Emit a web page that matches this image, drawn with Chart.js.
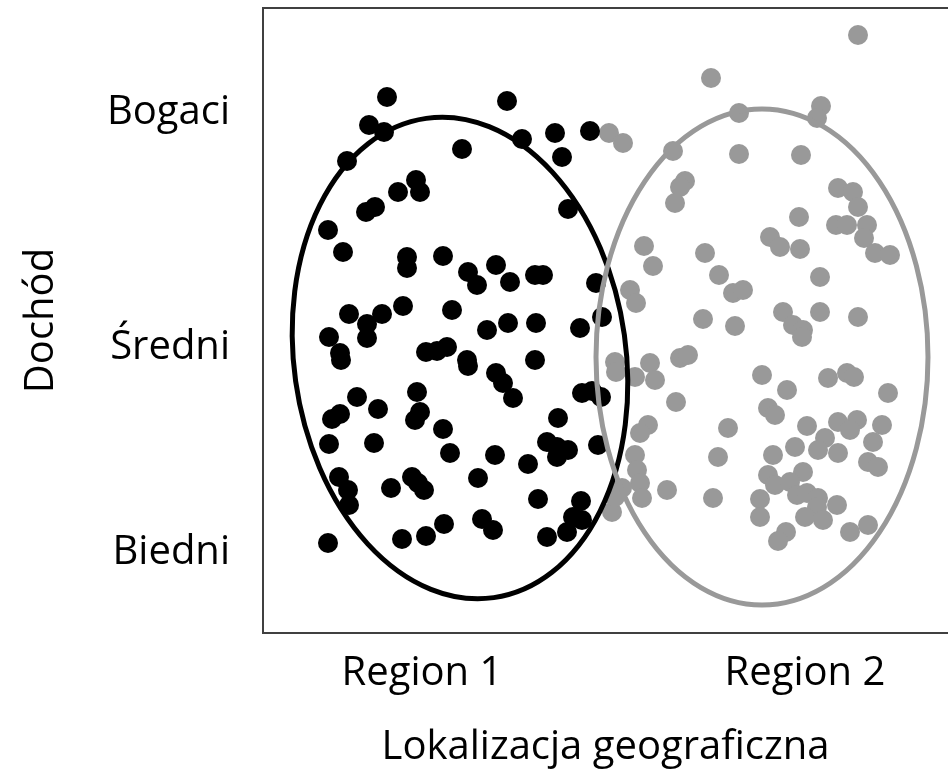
<!DOCTYPE html>
<html>
<head>
<meta charset="utf-8">
<script src="https://cdn.jsdelivr.net/npm/chart.js@4.4.1/dist/chart.umd.min.js"></script>
<style>
  html, body { margin: 0; padding: 0; background: #fff; }
  #chart { display: block; }
</style>
</head>
<body>
<canvas id="chart" width="948" height="773"></canvas>
<script>
// axis ticks (data units)
const regionTicks = [159, 542];
const regionLabels = ['Region 1', 'Region 2'];
const incomeTicks = [80, 285, 520];
const incomeLabels = ['Biedni', 'Średni', 'Bogaci'];

// households, [location, income]
const region1Points = [
  [124, 536], [244, 532], [106, 508], [121, 501], [84, 472], [199, 484], [259, 494], [292, 500],
  [327, 502], [299, 476], [305, 424], [153, 453], [157, 441], [135, 441], [103, 421], [112, 426],
  [65, 403], [80, 381], [144, 376], [144, 365], [180, 377], [205, 361], [214, 348], [233, 368],
  [247, 351], [272, 358], [280, 358], [333, 350], [339, 316], [317, 305], [86, 319], [104, 309],
  [119, 319], [140, 327], [189, 323], [66, 296], [104, 295], [77, 280], [78, 273], [163, 281],
  [174, 282], [184, 286], [204, 273], [205, 267], [224, 303], [233, 260], [240, 250], [245, 310],
  [273, 310], [272, 273], [250, 235], [319, 240], [329, 242], [338, 236], [295, 215], [94, 236],
  [115, 224], [154, 241], [157, 221], [152, 213], [69, 214], [77, 219], [180, 204], [66, 189],
  [111, 190], [187, 180], [232, 178], [76, 156], [85, 143], [86, 128], [128, 145], [149, 156],
  [155, 150], [161, 143], [215, 155], [65, 90], [139, 94], [163, 97], [181, 109], [219, 114],
  [230, 103], [284, 191], [294, 186], [305, 183], [294, 176], [265, 169], [335, 188], [275, 134],
  [318, 132], [310, 116], [319, 113], [304, 101], [284, 96]
];

const region2Points = [
  [595, 598], [448, 555], [476, 520], [558, 527], [554, 515], [346, 500], [360, 490], [410, 482],
  [476, 479], [538, 478], [422, 452], [417, 446], [412, 430], [575, 445], [590, 441], [595, 426],
  [536, 416], [573, 408], [584, 408], [604, 408], [601, 395], [612, 380], [627, 378], [507, 396],
  [517, 386], [537, 384], [381, 387], [390, 367], [442, 380], [456, 358], [557, 356], [470, 340],
  [480, 343], [440, 314], [520, 321], [530, 308], [540, 303], [539, 296], [557, 321], [595, 316],
  [472, 307], [367, 343], [373, 330], [352, 271], [353, 261], [372, 256], [387, 270], [392, 253],
  [417, 275], [425, 278], [413, 231], [499, 258], [524, 243], [565, 255], [584, 260], [591, 256],
  [625, 240], [505, 225], [512, 218], [465, 205], [544, 207], [575, 211], [594, 213], [587, 203],
  [619, 208], [610, 191], [562, 195], [555, 183], [575, 180], [455, 176], [510, 178], [532, 186],
  [605, 171], [615, 166], [540, 161], [505, 158], [512, 148], [527, 151], [534, 138], [544, 140],
  [555, 135], [554, 126], [574, 128], [450, 135], [497, 134], [497, 116], [542, 116], [560, 113],
  [523, 101], [515, 92], [587, 101], [605, 108], [385, 208], [377, 200], [372, 178], [374, 163],
  [377, 150], [379, 135], [404, 143], [359, 145], [349, 121], [352, 136]
];

// group outlines (data units)
const ellipseCenterX = [197, 499];
const ellipseCenterY = [275, 276];
const ellipseRadiusX = [166, 166];
const ellipseRadiusY = [242, 248];
const ellipseTilt = [-0.14, 0];

const BLACK = '#000000';
const GREY = '#999999';
const font = { family: "'Open Sans', 'Noto Sans', sans-serif", size: 40 };

const ellipsePlugin = {
  id: 'ellipses',
  afterDatasetsDraw(chart) {
    const { ctx, scales: { x, y } } = chart;
    const colors = [BLACK, GREY];
    ctx.save();
    ellipseCenterX.forEach((cx, i) => {
      const px = x.getPixelForValue(cx);
      const py = y.getPixelForValue(ellipseCenterY[i]);
      const rx = Math.abs(x.getPixelForValue(cx + ellipseRadiusX[i]) - px);
      const ry = Math.abs(y.getPixelForValue(ellipseCenterY[i] + ellipseRadiusY[i]) - py);
      ctx.beginPath();
      ctx.ellipse(px, py, rx, ry, ellipseTilt[i], 0, Math.PI * 2);
      ctx.strokeStyle = colors[i];
      ctx.lineWidth = 5;
      ctx.stroke();
    });
    ctx.restore();
  }
};

// box round the plot (right side falls off the canvas)
const framePlugin = {
  id: 'frame',
  afterDraw(chart) {
    const { ctx, chartArea: a } = chart;
    ctx.save();
    ctx.strokeStyle = '#404040';
    ctx.lineWidth = 2;
    ctx.beginPath();
    ctx.moveTo(a.right + 2, a.top);
    ctx.lineTo(a.left, a.top);
    ctx.lineTo(a.left, a.bottom);
    ctx.lineTo(a.right + 2, a.bottom);
    ctx.stroke();
    ctx.restore();
  }
};

// fixed axis sizes, no extra room for overhanging labels
const fixSize = (prop, size) => (axis) => {
  axis[prop] = size;
  axis.paddingTop = 0;
  axis.paddingBottom = 0;
  axis.paddingLeft = 0;
  axis.paddingRight = 0;
};

const toXY = (p) => ({ x: p[0], y: p[1] });

new Chart(document.getElementById('chart'), {
  type: 'scatter',
  data: {
    datasets: [
      {
        label: 'Region 1',
        data: region1Points.map(toXY),
        backgroundColor: BLACK,
        borderWidth: 0,
        pointRadius: 10
      },
      {
        label: 'Region 2',
        data: region2Points.map(toXY),
        backgroundColor: GREY,
        borderWidth: 0,
        pointRadius: 10
      }
    ]
  },
  options: {
    responsive: false,
    animation: false,
    layout: { autoPadding: false, padding: { top: 8, right: 0, bottom: 0, left: 0 } },
    plugins: {
      legend: { display: false },
      tooltip: { enabled: false }
    },
    scales: {
      x: {
        type: 'linear',
        min: 0,
        max: 685,
        afterBuildTicks: (axis) => { axis.ticks = regionTicks.map(v => ({ value: v })); },
        afterFit: fixSize('height', 140),
        grid: { display: false, drawTicks: false },
        border: { display: false },
        ticks: {
          callback: (v, i) => regionLabels[i],
          color: BLACK,
          font: font,
          padding: 17,
          autoSkip: false,
          maxRotation: 0
        },
        title: {
          display: true,
          text: 'Lokalizacja geograficzna',
          color: BLACK,
          font: font,
          padding: { top: 0, bottom: 1 }
        }
      },
      y: {
        type: 'linear',
        min: 0,
        max: 625,
        afterBuildTicks: (axis) => { axis.ticks = incomeTicks.map(v => ({ value: v })); },
        afterFit: fixSize('width', 263),
        grid: { display: false, drawTicks: false },
        border: { display: false },
        ticks: {
          callback: (v, i) => incomeLabels[i],
          color: BLACK,
          font: font,
          padding: 33,
          autoSkip: false
        },
        title: {
          display: true,
          text: 'Dochód',
          color: BLACK,
          font: font,
          padding: { top: 18, bottom: 18 }
        }
      }
    }
  },
  plugins: [ellipsePlugin, framePlugin]
});
</script>
</body>
</html>
